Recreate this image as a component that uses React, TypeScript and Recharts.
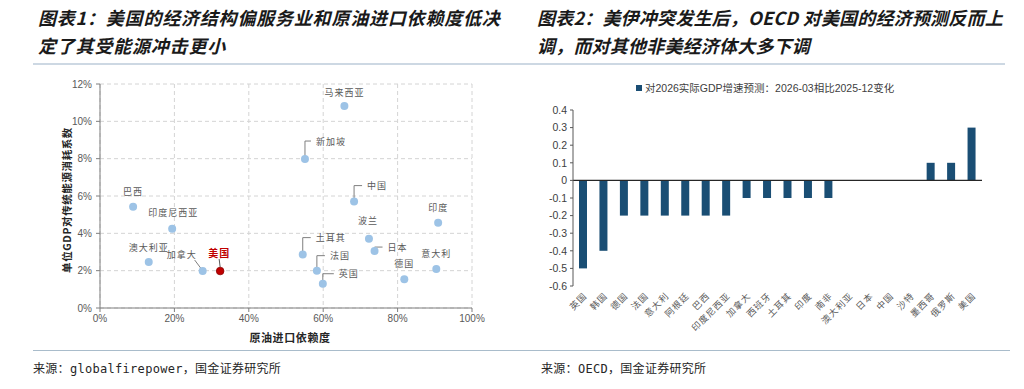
import React from 'react';
import {
  ScatterChart, Scatter, XAxis, YAxis, CartesianGrid, BarChart, Bar, ReferenceLine,
} from 'recharts';

// 图表1：原油进口依赖度 vs 单位GDP对传统能源消耗系数 (单位 %)
const countries = ['巴西', '印度尼西亚', '澳大利亚', '加拿大', '美国', '马来西亚', '新加坡', '中国', '印度', '波兰', '日本', '土耳其', '法国', '英国', '德国', '意大利'];
const oilImportDependency = [8.9, 19.4, 13.1, 27.6, 32.3, 65.7, 55.1, 68.3, 90.9, 72.3, 73.8, 54.5, 58.3, 59.9, 81.8, 90.4];
const energyIntensity = [5.43, 4.25, 2.46, 1.98, 1.98, 10.82, 7.98, 5.7, 4.57, 3.71, 3.05, 2.86, 2.0, 1.3, 1.54, 2.09];
const xTicks = [0, 20, 40, 60, 80, 100];
const yTicks = [0, 2, 4, 6, 8, 10, 12];

// 图表2：对2026实际GDP增速预测变化
const barCategories = ['英国', '韩国', '德国', '法国', '意大利', '阿根廷', '巴西', '印度尼西亚', '加拿大', '西班牙', '土耳其', '印度', '南非', '澳大利亚', '日本', '中国', '沙特', '墨西哥', '俄罗斯', '美国'];
const gdpRevision = [-0.5, -0.4, -0.2, -0.2, -0.2, -0.2, -0.2, -0.2, -0.1, -0.1, -0.1, -0.1, -0.1, 0, 0, 0, 0, 0.1, 0.1, 0.3];
const barTicks = [-0.6, -0.5, -0.4, -0.3, -0.2, -0.1, 0, 0.1, 0.2, 0.3, 0.4];
const legendText = '对2026实际GDP增速预测：2026-03相比2025-12变化';

const scatterData = countries.map((name, i) => ({ name, x: oilImportDependency[i], y: energyIntensity[i] }));
const barData = barCategories.map((name, i) => ({ name, value: gdpRevision[i] }));

const CJK = '"Noto Sans CJK SC", sans-serif';
const LATIN = '"Liberation Sans", Arial, sans-serif';
const NAVY = '#1a4e74';

// label placement around each point (pixel offsets)
type Place = { dx: number; dy: number; kind: 'above' | 'elbow' | 'diag'; line?: [number, number, number, number] };
const labelPlace: Record<string, Place> = {
  巴西: { dx: 0, dy: -15, kind: 'above' },
  印度尼西亚: { dx: 1, dy: -16, kind: 'above' },
  澳大利亚: { dx: 0, dy: -15, kind: 'above' },
  加拿大: { dx: -21, dy: -17, kind: 'diag', line: [-8, -11, -2, -3] },
  美国: { dx: -1, dy: -19, kind: 'diag', line: [-1, -12, 0, -4] },
  马来西亚: { dx: 0, dy: -14, kind: 'above' },
  新加坡: { dx: 11, dy: -18, kind: 'elbow' },
  中国: { dx: 13, dy: -16, kind: 'elbow' },
  印度: { dx: 0, dy: -15, kind: 'above' },
  波兰: { dx: -1, dy: -18, kind: 'above' },
  日本: { dx: 13, dy: -4, kind: 'elbow' },
  土耳其: { dx: 13, dy: -17, kind: 'elbow' },
  法国: { dx: 13, dy: -15, kind: 'elbow' },
  英国: { dx: 16, dy: -10, kind: 'elbow' },
  德国: { dx: 0, dy: -16, kind: 'above' },
  意大利: { dx: 0, dy: -15, kind: 'above' },
};

const PointShape = (props: any) => {
  const { cx, cy, payload } = props;
  const name: string = payload.name;
  const p = labelPlace[name];
  const isUS = name === '美国';
  const lineColor = '#7f7f7f';
  let leader: React.ReactNode = null;
  if (p.kind === 'elbow') {
    leader = (
      <path
        d={`M${cx},${cy - 3} V${cy + p.dy} H${cx + p.dx - 5}`}
        fill="none" stroke={lineColor} strokeWidth={1}
      />
    );
  } else if (p.kind === 'diag' && p.line) {
    leader = (
      <line
        x1={cx + p.line[0]} y1={cy + p.line[1]} x2={cx + p.line[2]} y2={cy + p.line[3]}
        stroke={isUS ? '#595959' : lineColor} strokeWidth={1}
      />
    );
  }
  return (
    <g>
      {leader}
      <circle cx={cx} cy={cy} r={isUS ? 3.8 : 4} fill={isUS ? '#c00000' : '#9dc3e6'} stroke={isUS ? '#8b0000' : 'none'} strokeWidth={0.8} />
      <text
        x={cx + p.dx}
        y={cy + p.dy}
        textAnchor={p.kind === 'elbow' ? 'start' : 'middle'}
        dominantBaseline="central"
        fontFamily={CJK}
        fontSize={isUS ? 10 : 9}
        fontWeight={isUS ? 700 : 400}
        letterSpacing={1}
        fill={isUS ? '#c00000' : '#595959'}
      >
        {name}
      </text>
    </g>
  );
};

const CategoryTick = ({ x, y, payload }: any) => {
  const px = x + 2;
  const py = y + 2;
  return (
    <text
      x={px} y={py}
      transform={`rotate(-45 ${px} ${py})`}
      textAnchor="end"
      dominantBaseline="central"
      fontFamily={CJK}
      fontSize={9}
      letterSpacing={1}
      fill="#595959"
    >
      {payload.value}
    </text>
  );
};

const tickStyle = { fontSize: 10, fill: '#595959', fontFamily: LATIN };

const abs = (left: number, top: number, extra: React.CSSProperties = {}): React.CSSProperties => ({
  position: 'absolute', left, top, ...extra,
});

const titleStyle: React.CSSProperties = {
  fontFamily: CJK, fontSize: 18, fontWeight: 700, fontStyle: 'italic',
  letterSpacing: 0.8, color: '#1a1a1a', whiteSpace: 'nowrap', lineHeight: '28px',
};
const titleStyleRight: React.CSSProperties = { ...titleStyle, letterSpacing: 0.2 };

const sourceStyle: React.CSSProperties = {
  fontFamily: `"DejaVu Sans Mono", ${CJK}`, fontSize: 12, color: '#262626',
  whiteSpace: 'nowrap', letterSpacing: 0.3,
};

export default function App() {
  return (
    <div style={{ position: 'absolute', left: 0, top: 0, width: 1024, height: 389, background: '#fff', overflow: 'hidden' }}>
      {/* titles */}
      <div style={abs(38, 3, titleStyle)}>图表1：美国的经济结构偏服务业和原油进口依赖度低决</div>
      <div style={abs(38, 31, titleStyle)}>定了其受能源冲击更小</div>
      <div style={abs(537, 3, titleStyleRight)}>图表2：美伊冲突发生后，OECD 对美国的经济预测反而上</div>
      <div style={abs(537, 31, titleStyleRight)}>调，而对其他非美经济体大多下调</div>
      <div style={abs(33, 63, { width: 972, height: 2, background: '#cdd8e3' })} />

      {/* left: scatter */}
      <div style={abs(0, 0)}>
        <ScatterChart width={520} height={389} margin={{ top: 84, right: 48, bottom: 51, left: 60 }}>
          <CartesianGrid strokeDasharray="4 3" stroke="#d4d4d4" />
          <XAxis
            type="number" dataKey="x" domain={[0, 100]} ticks={xTicks} height={30}
            tickFormatter={(v: number) => `${v}%`} tick={tickStyle}
            axisLine={{ stroke: '#7f7f7f' }} tickLine={{ stroke: '#7f7f7f' }} tickSize={4} tickMargin={3}
          />
          <YAxis
            type="number" dataKey="y" domain={[0, 12]} ticks={yTicks} width={40}
            tickFormatter={(v: number) => `${v}%`} tick={tickStyle}
            axisLine={{ stroke: '#7f7f7f' }} tickLine={{ stroke: '#7f7f7f' }} tickSize={4} tickMargin={4}
          />
          <Scatter data={scatterData} isAnimationActive={false} shape={(props: any) => <PointShape {...props} />} />
        </ScatterChart>
      </div>
      <div style={abs(66, 200, {
        transform: 'translate(-50%, -50%) rotate(-90deg)', fontFamily: CJK, fontSize: 10.5,
        fontWeight: 700, color: '#262626', whiteSpace: 'nowrap', letterSpacing: 0.6,
      })}>单位GDP对传统能源消耗系数</div>
      <div style={abs(290, 337, {
        transform: 'translate(-50%, -50%)', fontFamily: CJK, fontSize: 11,
        fontWeight: 700, color: '#262626', whiteSpace: 'nowrap', letterSpacing: 0.6,
      })}>原油进口依赖度</div>

      {/* right: bars */}
      <div style={abs(512, 0)}>
        <BarChart width={512} height={389} data={barData} margin={{ top: 110, right: 42, bottom: 43, left: 31 }}>
          <XAxis
            dataKey="name" interval={0} height={60} axisLine={false} tickLine={false}
            tickSize={0} tickMargin={6} tick={<CategoryTick />}
          />
          <YAxis
            domain={[-0.6, 0.4]} ticks={barTicks} width={30} interval={0}
            tickFormatter={(v: number) => String(v)}
            tick={{ fontSize: 10.5, fill: '#404040', fontFamily: LATIN }}
            axisLine={{ stroke: '#595959' }} tickLine={{ stroke: '#595959' }} tickSize={3} tickMargin={3}
          />
          <Bar dataKey="value" fill={NAVY} barSize={8} isAnimationActive={false} />
          <ReferenceLine y={0} stroke="#262626" strokeWidth={1.2} />
        </BarChart>
      </div>
      <div style={abs(636, 80, { display: 'flex', alignItems: 'center', whiteSpace: 'nowrap' })}>
        <span style={{ display: 'inline-block', width: 6, height: 6, background: NAVY, marginRight: 3 }} />
        <span style={{ fontFamily: `${LATIN.split(',')[0]}, ${CJK}`, fontSize: 10.5, color: '#404040' }}>{legendText}</span>
      </div>

      {/* footer */}
      <div style={abs(33, 350, { width: 977, height: 1, background: '#a9bccb' })} />
      <div style={abs(33, 359, sourceStyle)}>来源：globalfirepower，国金证券研究所</div>
      <div style={abs(541, 359, sourceStyle)}>来源：OECD，国金证券研究所</div>
    </div>
  );
}
